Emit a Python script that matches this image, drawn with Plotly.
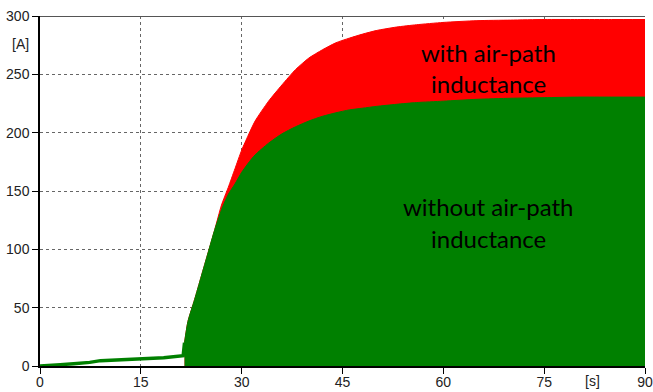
import plotly.graph_objects as go

# Time axis [s] and current envelopes [A]
t_env = [21.5, 22, 23, 24, 25, 26, 27, 28, 29, 30, 31, 32, 34, 36, 38, 40, 42, 44,
         46, 48, 50, 53, 56, 60, 65, 70, 75, 80, 85, 90]
i_with = [20, 38, 57, 77, 97, 117, 138, 153, 169, 185, 198, 210, 227, 241, 254, 264,
          271, 277, 281, 284.5, 287.5, 290.5, 292.5, 294.5, 296, 296.5, 297, 297, 297, 297]
i_without = [20, 38, 57, 77, 97, 117, 134, 147, 156, 166, 174, 181, 191, 199, 205, 210,
             214, 217, 219.5, 221, 222.5, 224.3, 225.8, 227, 228.6, 229.5, 230, 230.5,
             230.5, 230.5]

# Pre-charge current before the main rise
t_pre = [0, 1, 3, 5, 7.4, 9, 12, 15, 18.4, 21.3, 21.5]
i_pre = [0, 0.2, 1.1, 2.0, 3.1, 4.6, 5.3, 5.7, 7.1, 8.9, 20]

x_ticks = [0, 15, 30, 45, 60, 75, 90]
y_ticks = [0, 50, 100, 150, 200, 250, 300]

RED = "#ff0000"
GREEN = "#008000"

fig = go.Figure()

fig.add_trace(go.Scatter(
    x=t_env, y=i_with, mode="lines", fill="tozeroy", line_shape="spline",
    line=dict(color=RED, width=1, smoothing=0.6), fillcolor=RED, hoverinfo="skip",
))
fig.add_trace(go.Scatter(
    x=t_env, y=i_without, mode="lines", fill="tozeroy", line_shape="spline",
    line=dict(color=GREEN, width=1, smoothing=0.6), fillcolor=GREEN, hoverinfo="skip",
))
fig.add_trace(go.Scatter(
    x=t_pre, y=i_pre, mode="lines",
    line=dict(color=GREEN, width=3.5), hoverinfo="skip",
))

label_font = dict(family="Lato, 'Open Sans', sans-serif", size=24, color="#000000")
for text, y in [("with air-path", 269), ("inductance", 242.5),
                ("without air-path", 136.5), ("inductance", 109)]:
    fig.add_annotation(x=66.7, y=y, text=text, showarrow=False,
                       xanchor="center", yanchor="middle", font=label_font)

tick_font = dict(family="'Liberation Sans', Arial, sans-serif", size=14, color="#222222")
fig.add_annotation(xref="paper", x=0, xanchor="right", xshift=-9,
                   y=276, yanchor="middle", text="[A]", showarrow=False, font=tick_font)
fig.add_annotation(x=82.2, xanchor="center", yref="paper", y=0, yanchor="middle",
                   yshift=-15, text="[s]", showarrow=False, font=tick_font)

# solid frame line along the top of the plot area
fig.add_shape(type="line", x0=0, x1=90, y0=300, y1=300, xref="x", yref="y",
              line=dict(color="#555555", width=2), layer="above")

fig.update_xaxes(
    range=[0, 90], tickvals=x_ticks, ticks="outside", ticklen=6, tickwidth=1,
    tickcolor="#000000", showline=True, linecolor="#000000", linewidth=1.5,
    showgrid=True, gridcolor="#666666", griddash="dot", gridwidth=1,
    zeroline=False, tickfont=tick_font, automargin=False, ticklabelstandoff=-4,
)
fig.update_yaxes(
    range=[0, 300], tickvals=y_ticks, ticks="outside", ticklen=6, tickwidth=1,
    tickcolor="#000000", showline=True, linecolor="#000000", linewidth=1.5,
    showgrid=True, gridcolor="#666666", griddash="dot", gridwidth=1,
    zeroline=False, tickfont=tick_font, automargin=False,
)

fig.update_layout(
    width=653, height=392,
    margin=dict(l=40, r=8, t=16, b=26),
    paper_bgcolor="white", plot_bgcolor="white",
    showlegend=False,
)

fig.write_html("out.html")
